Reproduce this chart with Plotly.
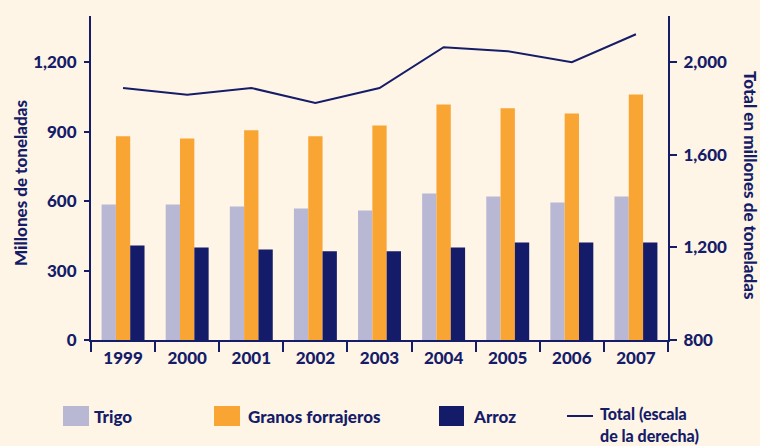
import plotly.graph_objects as go

years = ["1999", "2000", "2001", "2002", "2003", "2004", "2005", "2006", "2007"]
trigo = [586, 586, 577, 568, 560, 633, 620, 594, 620]
granos = [880, 871, 906, 880, 927, 1018, 1001, 979, 1061]
arroz = [408, 400, 391, 383, 383, 400, 421, 421, 421]
total = [1889, 1860, 1889, 1824, 1889, 2065, 2048, 2000, 2121]

left_ticks = [0, 300, 600, 900, 1200]
right_ticks = [800, 1200, 1600, 2000]

NAVY = "#151C68"
C_TRIGO = "#B8B8D4"
C_GRANOS = "#F9A533"
C_ARROZ = "#141B69"
BG = "#FFF5E7"
FONT = "Lato"

W, H = 760, 446
L, R, T, B = 91, 92, 16, 106
pw, ph = W - L - R, H - T - B

fig = go.Figure()
fig.add_bar(x=years, y=trigo, name="Trigo", marker=dict(color=C_TRIGO, line_width=0))
fig.add_bar(x=years, y=granos, name="Granos forrajeros", marker=dict(color=C_GRANOS, line_width=0))
fig.add_bar(x=years, y=arroz, name="Arroz", marker=dict(color=C_ARROZ, line_width=0))
fig.add_scatter(x=years, y=total, name="Total", mode="lines", yaxis="y2",
                line=dict(color=NAVY, width=2))

def px(x):
    return (x - L) / pw

def py(y):
    return (H - B - y) / ph

shapes = []
annotations = []
# custom legend
legend_items = [
    ("Trigo", C_TRIGO, 63, 89, 93),
    ("Granos forrajeros", C_GRANOS, 214, 240, 247),
    ("Arroz", C_ARROZ, 439, 464, 472),
]
lfont = dict(family=FONT, size=17, color=NAVY, weight=900)
lfont2 = dict(family=FONT, size=16, color=NAVY, weight=900)
for label, col, x0, x1, tx in legend_items:
    shapes.append(dict(type="rect", xref="paper", yref="paper",
                       x0=px(x0), x1=px(x1), y0=py(426), y1=py(406),
                       fillcolor=col, line_width=0))
    annotations.append(dict(text=label, xref="paper", yref="paper",
                            x=px(tx), y=py(416), xanchor="left", yanchor="middle",
                            showarrow=False, font=lfont, borderpad=0))
shapes.append(dict(type="line", xref="paper", yref="paper",
                   x0=px(567), x1=px(593), y0=py(416), y1=py(416),
                   line=dict(color=NAVY, width=2)))
annotations.append(dict(text="Total (escala", xref="paper", yref="paper",
                        x=px(599), y=py(414), xanchor="left", yanchor="middle",
                        showarrow=False, font=lfont2, borderpad=0))
annotations.append(dict(text="de la derecha)", xref="paper", yref="paper",
                        x=px(599), y=py(435), xanchor="left", yanchor="middle",
                        showarrow=False, font=lfont2, borderpad=0))
# axis titles
tfont = dict(family=FONT, size=17, color=NAVY, weight=900)
annotations.append(dict(text="Millones de toneladas", xref="paper", yref="paper",
                        x=px(20), y=py(183), textangle=-90, showarrow=False,
                        xanchor="center", yanchor="middle", font=tfont))
annotations.append(dict(text="Total en millones de toneladas", xref="paper", yref="paper",
                        x=px(751), y=py(186), textangle=90, showarrow=False,
                        xanchor="center", yanchor="middle", font=tfont))

tickfont = dict(family=FONT, size=17, color=NAVY, weight=900)

fig.update_layout(
    width=W, height=H,
    margin=dict(l=L, r=R, t=T, b=B),
    paper_bgcolor=BG, plot_bgcolor=BG,
    showlegend=False,
    barmode="group", bargap=0.33, bargroupgap=0,
    shapes=shapes, annotations=annotations,
    xaxis=dict(type="category", showgrid=False, showline=True, linecolor=NAVY, linewidth=2,
               ticks="outside", tickson="boundaries", ticklen=10, tickwidth=2, tickcolor=NAVY,
               tickfont=tickfont, zeroline=False, ticklabelstandoff=2),
    yaxis=dict(range=[0, 1400], tickvals=left_ticks, tickformat=",", showgrid=False,
               showline=True, linecolor=NAVY, linewidth=2, ticks="outside", ticklen=5,
               tickwidth=2, tickcolor=NAVY, tickfont=tickfont, zeroline=False,
               ticklabelstandoff=4),
    yaxis2=dict(range=[800, 2200], tickvals=right_ticks, tickformat=",", overlaying="y",
                side="right", showgrid=False, showline=True, linecolor=NAVY, linewidth=2,
                ticks="outside", ticklen=7, tickwidth=2, tickcolor=NAVY, tickfont=tickfont,
                zeroline=False, ticklabelstandoff=3),
)

fig.write_html("out.html", config={"displayModeBar": False},
               post_script="document.body.style.margin='0';document.body.style.background='" + BG + "';")
